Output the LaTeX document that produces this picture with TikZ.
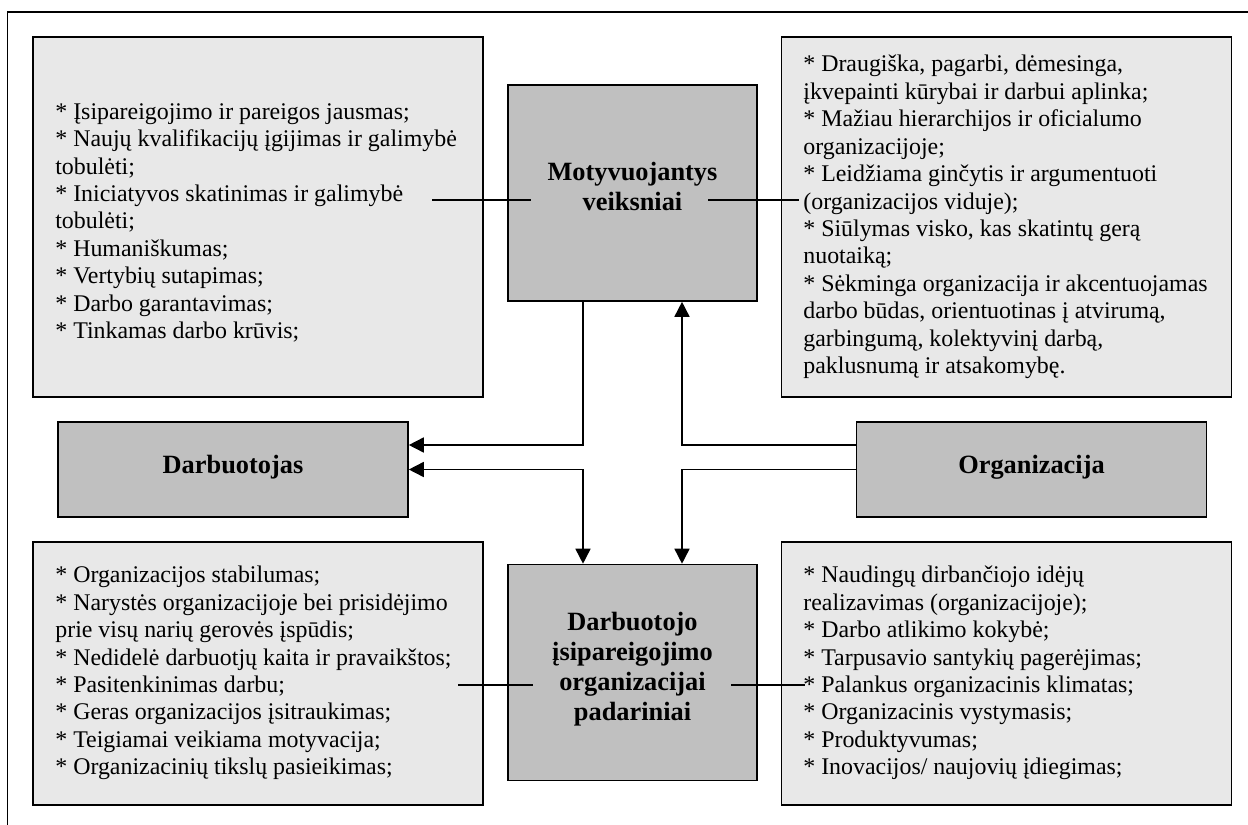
\documentclass[tikz,border=0pt]{standalone}
\usepackage{fontspec}
\setmainfont{Liberation Serif}
\usetikzlibrary{arrows.meta}
\newlength{\du}
\setlength{\du}{0.02cm}
\definecolor{lightbox}{rgb}{0.910000, 0.910000, 0.910000}
\definecolor{darkbox}{rgb}{0.752941, 0.752941, 0.752941}

\begin{document}
\begin{tikzpicture}[
  listbox/.style={draw=black, fill=lightbox, line width=1.6\du, inner sep=0pt,
    minimum width=450\du},
  mainbox/.style={draw=black, fill=darkbox, line width=1.6\du, inner sep=0pt},
  listtext/.style={anchor=west, align=left, inner sep=0pt,
    font=\fontsize{13.6pt}{15.6pt}\selectfont},
  maintext/.style={align=center, inner sep=0pt,
    font=\fontsize{15pt}{17.1pt}\selectfont\bfseries},
  link/.style={draw=black, line width=1.6\du},
  tip/.style={link, -{Triangle[length=0.3cm, width=0.3cm]}},
  tips/.style={link, {Triangle[length=0.3cm, width=0.3cm]}-{Triangle[length=0.3cm, width=0.3cm]}}
]
\pgftransformxscale{1.000000}
\pgftransformyscale{-1.000000}
\useasboundingbox (0\du,0\du) rectangle (1248\du,825\du);
\pgfsetmiterjoin
\pgfsetbuttcap
% frame
\draw[line width=1.6\du] (7.500000\du,825.000000\du)--(7.500000\du,12.000000\du)--(1248.000000\du,12.000000\du);
% boxes
\node[listbox, minimum height=360\du] (lt) at (258.000000\du,217.000000\du) {};
\node[listbox, minimum height=360\du] (rt) at (1006.500000\du,217.000000\du) {};
\node[listbox, minimum height=263\du] (lb) at (258.000000\du,673.500000\du) {};
\node[listbox, minimum height=263\du] (rb) at (1006.500000\du,673.500000\du) {};
\node[mainbox, minimum width=249\du, minimum height=216\du] (mv) at (632.500000\du,193.000000\du) {};
\node[mainbox, minimum width=249\du, minimum height=216\du] (dd) at (632.500000\du,672.500000\du) {};
\node[mainbox, minimum width=350\du, minimum height=95\du] (db) at (233.000000\du,469.500000\du) {};
\node[mainbox, minimum width=350\du, minimum height=95\du] (org) at (1031.500000\du,469.500000\du) {};
% texts
\node[listtext] (ltt) at (55.000000\du,217.000000\du){\mbox{}\\
* Įsipareigojimo ir pareigos jausmas;\\
* Naujų kvalifikacijų įgijimas ir galimybė\\
tobulėti;\\
* Iniciatyvos skatinimas ir galimybė\\
tobulėti;\\
* Humaniškumas;\\
* Vertybių sutapimas;\\
* Darbo garantavimas;\\
* Tinkamas darbo krūvis;};
\node[listtext] (rtt) at (803.000000\du,217.000000\du){* Draugiška, pagarbi, dėmesinga,\\
įkvepainti kūrybai ir darbui aplinka;\\
* Mažiau hierarchijos ir oficialumo\\
organizacijoje;\\
* Leidžiama ginčytis ir argumentuoti\\
(organizacijos viduje);\\
* Siūlymas visko, kas skatintų gerą\\
nuotaiką;\\
* Sėkminga organizacija ir akcentuojamas\\
darbo būdas, orientuotinas į atvirumą,\\
garbingumą, kolektyvinį darbą,\\
paklusnumą ir atsakomybę.};
\node[listtext] (lbt) at (55.000000\du,673.000000\du){* Organizacijos stabilumas;\\
* Narystės organizacijoje bei prisidėjimo\\
prie visų narių gerovės įspūdis;\\
* Nedidelė darbuotjų kaita ir pravaikštos;\\
* Pasitenkinimas darbu;\\
* Geras organizacijos įsitraukimas;\\
* Teigiamai veikiama motyvacija;\\
* Organizacinių tikslų pasieikimas;};
\node[listtext] (rbt) at (803.000000\du,673.000000\du){* Naudingų dirbančiojo idėjų\\
realizavimas (organizacijoje);\\
* Darbo atlikimo kokybė;\\
* Tarpusavio santykių pagerėjimas;\\
* Palankus organizacinis klimatas;\\
* Organizacinis vystymasis;\\
* Produktyvumas;\\
* Inovacijos/ naujovių įdiegimas;};
\node[maintext] (mvt) at (632.500000\du,186.500000\du){Motyvuojantys\\veiksniai};
\node[maintext] (ddt) at (632.500000\du,669.000000\du){Darbuotojo\\įsipareigojimo\\organizacijai\\padariniai};
\node[maintext] (dbt) at (233.000000\du,467.000000\du){Darbuotojas};
\node[maintext] (orgt) at (1031.500000\du,467.000000\du){Organizacija};
% arrows
\coordinate (jl) at (583.000000\du,445.000000\du);
\coordinate (jr) at (682.000000\du,445.000000\du);
\draw[tip] (mv.south -| jl)--(jl)--(jl -| db.east);
\draw[tips] (db.east) -| (jl |- dd.north);
\draw[tip] (jr -| org.west)--(jr)--(jr |- mv.south);
\draw[tip] (org.west) -| (jr |- dd.north);
% lines from the lists
\coordinate (ltc) at (432.000000\du,200.000000\du);
\coordinate (mvc1) at (531.000000\du,200.000000\du);
\coordinate (mvc2) at (708.000000\du,200.000000\du);
\coordinate (rtc) at (799.000000\du,200.000000\du);
\coordinate (lbc) at (458.000000\du,685.000000\du);
\coordinate (ddc1) at (533.000000\du,685.000000\du);
\coordinate (ddc2) at (731.000000\du,685.000000\du);
\coordinate (rbc) at (805.000000\du,685.000000\du);
\draw[link] (ltc)--(mvc1);
\draw[link] (mvc2)--(rtc);
\draw[link] (lbc)--(ddc1);
\draw[link] (ddc2)--(rbc);
\end{tikzpicture}
\end{document}
